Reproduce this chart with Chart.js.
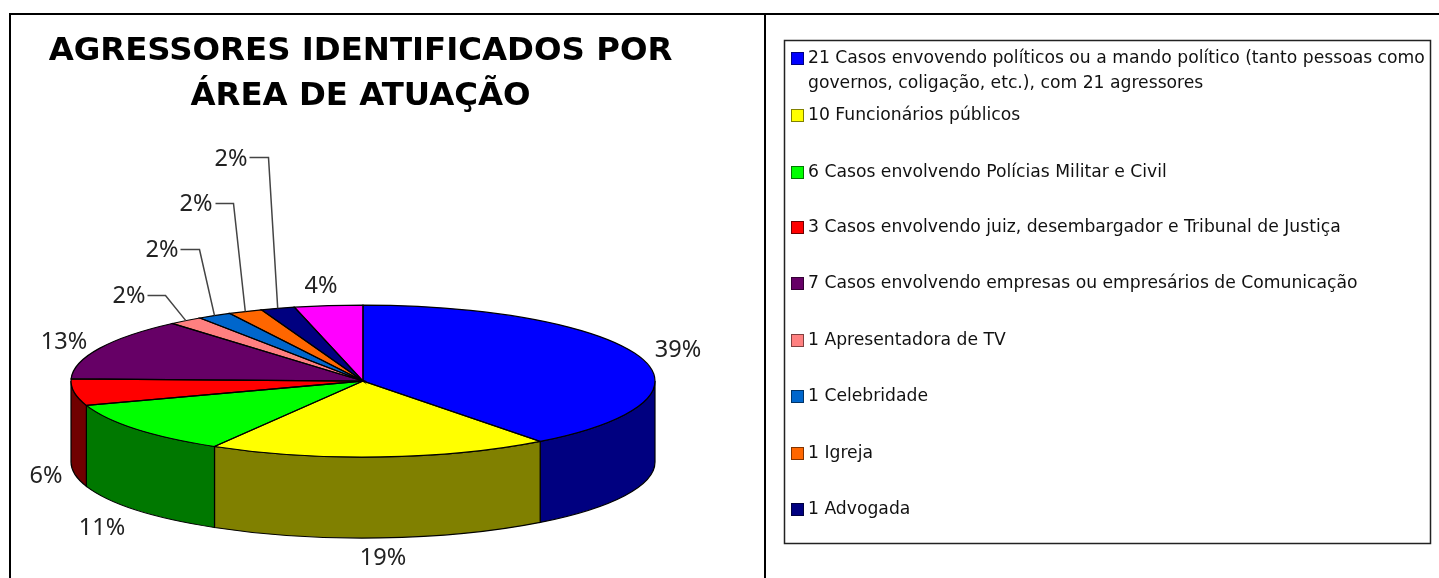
<!DOCTYPE html>
<html lang="pt">
<head>
<meta charset="utf-8">
<title>Agressores identificados por área de atuação</title>
<script src="https://cdn.jsdelivr.net/npm/chart.js@4"></script>
<style>
html,body{margin:0;padding:0;background:#fff;}
canvas{display:block;}
</style>
</head>
<body>
<canvas id="c" width="1439" height="578"></canvas>
<script>
const titleLines = ['AGRESSORES IDENTIFICADOS POR', 'ÁREA DE ATUAÇÃO'];
const caseCounts = [21, 10, 6, 3, 7, 1, 1, 1, 1, 2];
const percentLabels = ['39%', '19%', '11%', '6%', '13%', '2%', '2%', '2%', '2%', '4%'];
const legendTexts = [
  ['21 Casos envovendo políticos ou a mando político (tanto pessoas como', 'governos, coligação, etc.), com 21 agressores'],
  ['10 Funcionários públicos'],
  ['6 Casos envolvendo Polícias Militar e Civil'],
  ['3 Casos envolvendo juiz, desembargador e Tribunal de Justiça'],
  ['7 Casos envolvendo empresas ou empresários de Comunicação'],
  ['1 Apresentadora de TV'],
  ['1 Celebridade'],
  ['1 Igreja'],
  ['1 Advogada']
];
const topColors = ['#0000ff', '#ffff00', '#00ff00', '#ff0000', '#660066', '#ff8080', '#0066cc', '#ff6600', '#000080', '#ff00ff'];
const sideColors = ['#000080', '#808000', '#007800', '#700000', '#330033', '#804040', '#003366', '#803300', '#000040', '#800080'];

/* layout constants (not data) */
const RX = 292, RY = 76, DEPTH = 81;
const LABEL_POS = [[678,350],[383,558],[102,528],[46,476],[64,342],[129,296],[162,250],[196,204],[231,159],[321,286]];
const LEADER_ELBOW = {5:[[147,295],[165,295]], 6:[[180,249],[199,249]], 7:[[215,203],[233,203]], 8:[[249,157],[268,157]]};
const LEGEND_Y = [[58,83],[115],[172],[227],[283],[340],[396],[453],[509]];

const pie3d = {
  id: 'pie3d',
  afterLayout(chart) {
    chart.titleBlock.left -= 5;
  },
  beforeDraw(chart) {
    const ctx = chart.ctx;
    ctx.save();
    ctx.fillStyle = '#fff';
    ctx.fillRect(0, 0, chart.width, chart.height);
    ctx.fillStyle = '#000';
    ctx.fillRect(9, 13, 1430, 2);
    ctx.fillRect(9, 13, 2, 565);
    ctx.fillRect(764, 13, 2, 565);
    ctx.restore();
  },
  beforeDatasetsDraw(chart) {
    const ctx = chart.ctx;
    const arcs = chart.getDatasetMeta(0).data;
    const cx = arcs[0].x, cy = arcs[0].y;
    ctx.save();
    ctx.lineWidth = 1.2;
    ctx.strokeStyle = '#000';
    arcs.forEach((a, i) => {
      const s = Math.max(a.startAngle, 0), e = Math.min(a.endAngle, Math.PI);
      if (e <= s) return;
      ctx.beginPath();
      ctx.ellipse(cx, cy, RX, RY, 0, s, e);
      ctx.lineTo(cx + RX * Math.cos(e), cy + RY * Math.sin(e) + DEPTH);
      ctx.ellipse(cx, cy + DEPTH, RX, RY, 0, e, s, true);
      ctx.closePath();
      ctx.fillStyle = sideColors[i];
      ctx.fill();
      ctx.stroke();
    });
    ctx.restore();
    ctx.save();
    ctx.translate(cx, cy);
    ctx.scale(1, RY / RX);
    ctx.translate(-cx, -cy);
  },
  afterDatasetsDraw(chart) {
    const ctx = chart.ctx;
    ctx.restore();
    const arcs = chart.getDatasetMeta(0).data;
    const cx = arcs[0].x, cy = arcs[0].y;
    ctx.save();
    ctx.lineWidth = 1.2;
    ctx.strokeStyle = '#000';
    arcs.forEach(a => {
      ctx.beginPath();
      ctx.moveTo(cx, cy);
      ctx.ellipse(cx, cy, RX, RY, 0, a.startAngle, a.endAngle);
      ctx.closePath();
      ctx.stroke();
    });
    ctx.restore();
  },
  afterDraw(chart) {
    const ctx = chart.ctx;
    const arcs = chart.getDatasetMeta(0).data;
    const cx = arcs[0].x, cy = arcs[0].y;
    ctx.save();
    /* leader lines */
    ctx.strokeStyle = '#444';
    ctx.lineWidth = 1.5;
    Object.keys(LEADER_ELBOW).forEach(k => {
      const a = arcs[k], mid = (a.startAngle + a.endAngle) / 2, pts = LEADER_ELBOW[k];
      ctx.beginPath();
      ctx.moveTo(pts[0][0] + .5, pts[0][1] + .5);
      ctx.lineTo(pts[1][0] + .5, pts[1][1] + .5);
      ctx.lineTo(cx + RX * Math.cos(mid), cy + RY * Math.sin(mid));
      ctx.stroke();
    });
    /* percentage labels */
    ctx.fillStyle = '#222';
    ctx.font = '23.5px "Noto Sans"';
    ctx.textAlign = 'center';
    ctx.textBaseline = 'middle';
    percentLabels.forEach((t, i) => ctx.fillText(t, LABEL_POS[i][0], LABEL_POS[i][1]));
    /* legend */
    ctx.strokeStyle = '#222';
    ctx.lineWidth = 1.5;
    ctx.strokeRect(784.5, 40.5, 646, 503);
    ctx.lineWidth = 1;
    ctx.textAlign = 'left';
    ctx.font = '17.2px "DejaVu Sans"';
    ctx.fillStyle = '#111';
    legendTexts.forEach((lines, i) => {
      lines.forEach((t, j) => ctx.fillText(t, 808, LEGEND_Y[i][j] + 1));
      const y = LEGEND_Y[i][0];
      ctx.fillStyle = topColors[i];
      ctx.fillRect(791, y - 6, 13, 13);
      ctx.strokeStyle = sideColors[i];
      ctx.strokeRect(791.5, y - 5.5, 12, 12);
      ctx.fillStyle = '#111';
    });
    ctx.restore();
  }
};

new Chart(document.getElementById('c'), {
  type: 'pie',
  data: {
    labels: percentLabels,
    datasets: [{
      data: caseCounts,
      backgroundColor: topColors,
      borderWidth: 0,
      clip: false
    }]
  },
  options: {
    responsive: false,
    animation: false,
    radius: RX,
    layout: { padding: { left: 0, right: 713, top: 0, bottom: 0 } },
    events: [],
    plugins: {
      legend: { display: false },
      tooltip: { enabled: false },
      title: {
        display: true,
        fullSize: false,
        text: titleLines,
        color: '#000',
        font: { family: '"DejaVu Sans"', size: 32.4, weight: 'bold', lineHeight: 1.39 },
        padding: { top: 29, bottom: 65 }
      }
    }
  },
  plugins: [pie3d]
});
</script>
</body>
</html>
